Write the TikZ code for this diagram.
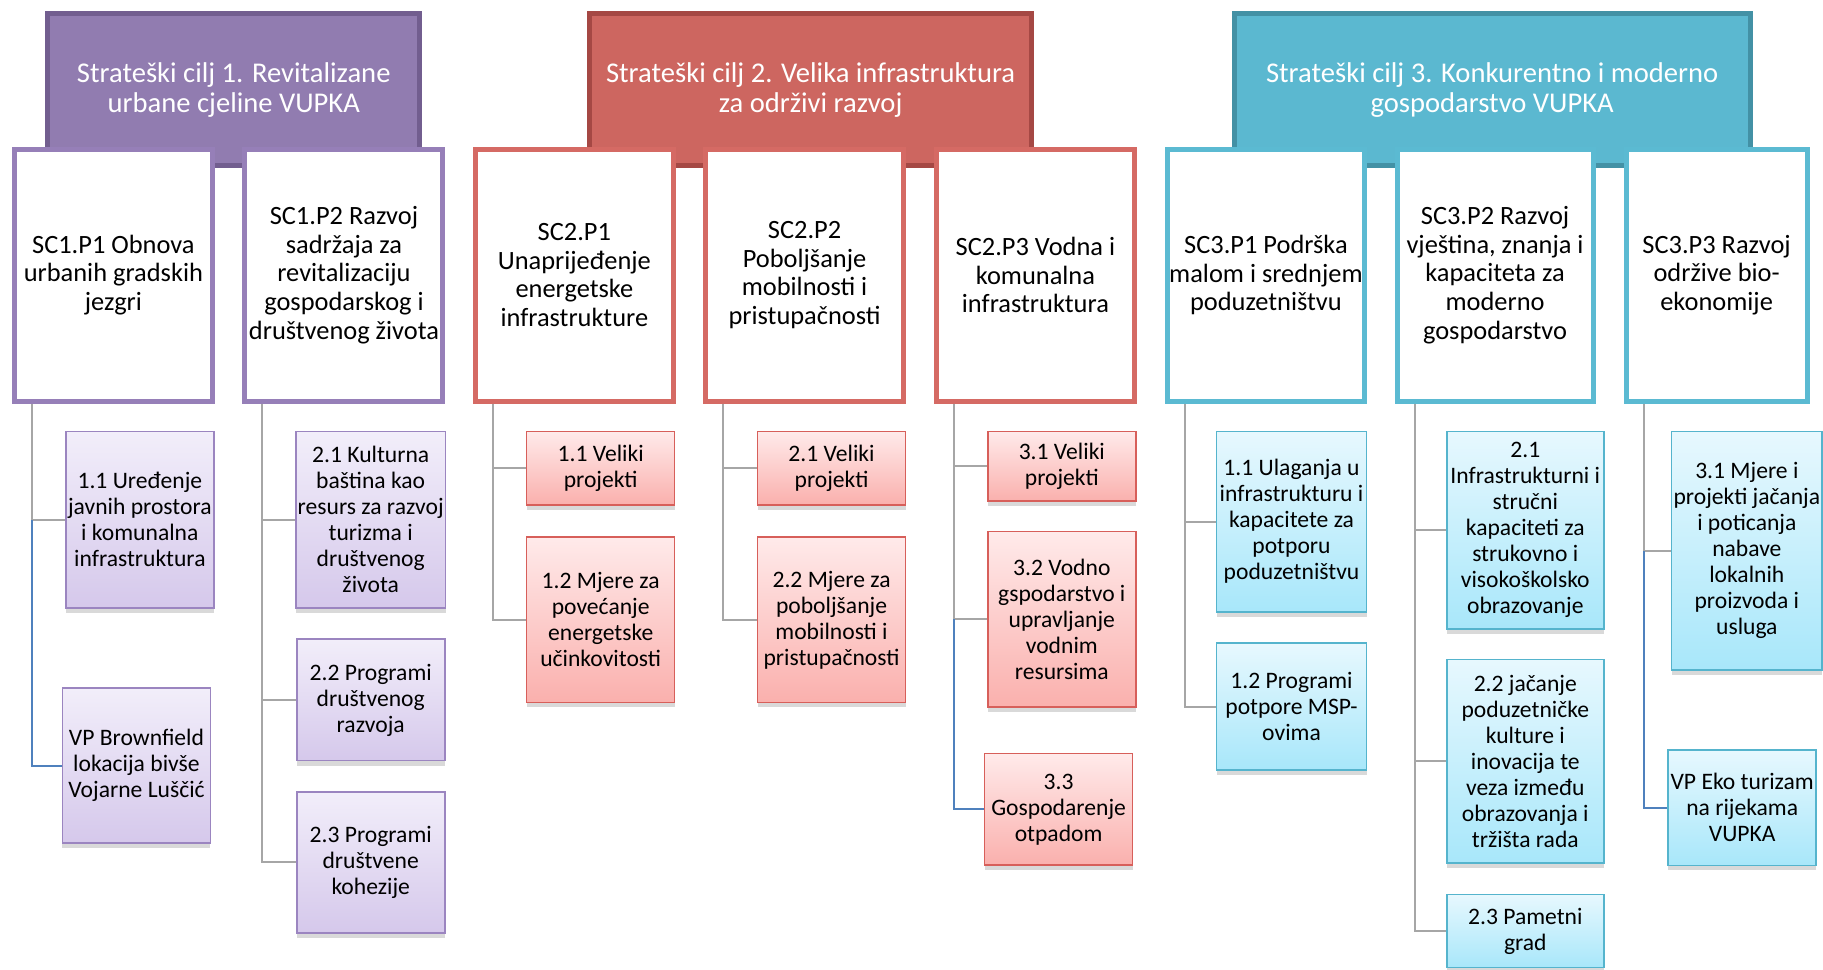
\documentclass[tikz,border=0pt]{standalone}
\usepackage{fontspec}
\setmainfont{Carlito}
\usepackage{tikz}
\usetikzlibrary{shapes,arrows,positioning,shadows}

\definecolor{ljH}{RGB}{145,124,176}
\definecolor{ljD}{RGB}{114,94,143}
\definecolor{ljB}{RGB}{150,127,184}
\definecolor{ljT}{RGB}{242,238,250}
\definecolor{ljU}{RGB}{213,200,235}
\definecolor{ljR}{RGB}{155,133,192}
\definecolor{crH}{RGB}{205,102,96}
\definecolor{crD}{RGB}{165,72,68}
\definecolor{crB}{RGB}{213,106,100}
\definecolor{crT}{RGB}{255,234,234}
\definecolor{crU}{RGB}{250,176,173}
\definecolor{crR}{RGB}{215,95,90}
\definecolor{plH}{RGB}{91,184,208}
\definecolor{plD}{RGB}{67,145,165}
\definecolor{plB}{RGB}{91,186,210}
\definecolor{plT}{RGB}{231,248,254}
\definecolor{plU}{RGB}{168,231,250}
\definecolor{plR}{RGB}{85,180,205}
\definecolor{veza}{RGB}{166,166,166}
\definecolor{vpveza}{RGB}{79,129,189}

\tikzset{
  cilj/.style={rectangle, line width=2.5pt, text=white, align=center,
    minimum height=75.6pt, font=\fontsize{14.3}{15}\selectfont},
  prio/.style={rectangle, fill=white, line width=2.5pt, align=center, inner sep=1pt,
    minimum width=99pt, minimum height=126pt, font=\fontsize{13.2}{14.4}\selectfont},
  mjera/.style={rectangle, line width=0.8pt, align=center, inner sep=1pt,
    minimum width=74pt, font=\fontsize{11.8}{13}\selectfont,
    drop shadow={shadow xshift=0pt, shadow yshift=-2.5pt, opacity=0.3}},
  mjL/.style={mjera, draw=ljR, top color=ljT, bottom color=ljU},
  mjC/.style={mjera, draw=crR, top color=crT, bottom color=crU},
  mjP/.style={mjera, draw=plR, top color=plT, bottom color=plU},
  grana/.style={draw=veza, line width=1pt},
  vpgrana/.style={draw=vpveza, line width=1pt}
}

\begin{document}
\begin{tikzpicture}[x=0.5815pt,y=-0.5815pt]
\useasboundingbox (0,0) rectangle (1567.5,834);

% strateski ciljevi
\node[cilj, fill=ljH, draw=ljD, minimum width=186pt] (cilj1) at (201,77) {Strateški cilj 1. Revitalizane\\urbane cjeline VUPKA};
\node[cilj, fill=crH, draw=crD, minimum width=221pt] (cilj2) at (697,77) {Strateški cilj 2. Velika infrastruktura\\za održivi razvoj};
\node[cilj, fill=plH, draw=plD, minimum width=258pt] (cilj3) at (1283,77) {Strateški cilj 3. Konkurentno i moderno\\gospodarstvo VUPKA};

% prioriteti
\node[prio, draw=ljB] (p11) at (97.5,236.5) {SC1.P1 Obnova\\urbanih gradskih\\jezgri};
\node[prio, draw=ljB] (p12) at (295.75,236.5) {SC1.P2 Razvoj\\sadržaja za\\revitalizaciju\\gospodarskog i\\društvenog života};
\node[prio, draw=crB] (p21) at (493.85,236.5) {SC2.P1\\Unaprijeđenje\\energetske\\infrastrukture};
\node[prio, draw=crB] (p22) at (691.8,236.5) {SC2.P2\\Poboljšanje\\mobilnosti i\\pristupačnosti};
\node[prio, draw=crB] (p23) at (890.3,236.5) {SC2.P3 Vodna i\\komunalna\\infrastruktura};
\node[prio, draw=plB, minimum width=98pt] (p31) at (1088.5,236.5) {SC3.P1 Podrška\\malom i srednjem\\poduzetništvu};
\node[prio, draw=plB, minimum width=98pt] (p32) at (1285.5,236.5) {SC3.P2 Razvoj\\vještina, znanja i\\kapaciteta za\\moderno\\gospodarstvo};
\node[prio, draw=plB, minimum width=90.5pt] (p33) at (1476,236.5) {SC3.P3 Razvoj\\održive bio-\\ekonomije};

% mjere
\node[mjL, minimum height=88.4pt] (m111) at (120.25,447) {1.1 Uređenje\\javnih prostora\\i komunalna\\infrastruktura};
\node[mjL, minimum height=77.6pt] (m112) at (117.35,658.3) {VP Brownfield\\lokacija bivše\\Vojarne Luščić};
\node[mjL, minimum height=88.4pt] (m121) at (318.75,447) {2.1 Kulturna\\baština kao\\resurs za razvoj\\turizma i\\društvenog\\života};
\node[mjL, minimum height=60.7pt] (m122) at (318.75,601.8) {2.2 Programi\\društvenog\\razvoja};
\node[mjL, minimum height=70.4pt] (m123) at (318.75,741.5) {2.3 Programi\\društvene\\kohezije};

\node[mjC, minimum height=36.6pt] (m211) at (516.5,402.5) {1.1 Veliki\\projekti};
\node[mjC, minimum height=82.6pt] (m212) at (516.5,533) {1.2 Mjere za\\povećanje\\energetske\\učinkovitosti};
\node[mjC, minimum height=36.6pt] (m221) at (715,402.5) {2.1 Veliki\\projekti};
\node[mjC, minimum height=82.6pt] (m222) at (715,533) {2.2 Mjere za\\poboljšanje\\mobilnosti i\\pristupačnosti};
\node[mjC, minimum height=34.9pt] (m231) at (913,401) {3.1 Veliki\\projekti};
\node[mjC, minimum height=87.8pt] (m232) at (913,532.5) {3.2 Vodno\\gspodarstvo i\\upravljanje\\vodnim\\resursima};
\node[mjC, minimum height=55.8pt] (m233) at (910.25,696) {3.3\\Gospodarenje\\otpadom};

\node[mjP, minimum width=75pt, minimum height=90.1pt] (m311) at (1110.5,448.5) {1.1 Ulaganja u\\infrastrukturu i\\kapacitete za\\potporu\\poduzetništvu};
\node[mjP, minimum width=75pt, minimum height=63.4pt] (m312) at (1110.5,607.5) {1.2 Programi\\potpore MSP-\\ovima};
\node[mjP, minimum width=78.5pt, minimum height=98.9pt] (m321) at (1311.5,456) {2.1\\Infrastrukturni i\\stručni\\kapaciteti za\\strukovno i\\visokoškolsko\\obrazovanje};
\node[mjP, minimum width=78.5pt, minimum height=101.8pt] (m322) at (1311.5,654.5) {2.2 jačanje\\poduzetničke\\kulture i\\inovacija te\\veza između\\obrazovanja i\\tržišta rada};
\node[mjP, minimum width=78.5pt, minimum height=36.6pt] (m323) at (1311.5,800.5) {2.3 Pametni\\grad};
\node[mjP, minimum height=119.2pt] (m331) at (1502,473.5) {3.1 Mjere i\\projekti jačanja\\i poticanja\\nabave\\lokalnih\\proizvoda i\\usluga};
\node[mjP, minimum height=57.6pt] (m332) at (1498,694.5) {VP Eko turizam\\na rijekama\\VUPKA};

% veze
\foreach \p in {p11,p12,p21,p22,p23,p31,p32,p33}
\coordinate (t\p) at ([xshift=10pt]\p.south west);
\foreach \p/\m in {p11/m111, p12/m121, p12/m122, p12/m123, p21/m211, p21/m212,
  p22/m221, p22/m222, p23/m231, p23/m232, p31/m311, p31/m312,
  p32/m321, p32/m322, p32/m323, p33/m331}
\draw[grana] (t\p) |- (\m.west);
\draw[vpgrana] (tp11 |- m111.west) |- (m112.west);
\draw[vpgrana] (tp23 |- m232.west) |- (m233.west);
\draw[vpgrana] (tp33 |- m331.west) |- (m332.west);

\end{tikzpicture}
\end{document}
